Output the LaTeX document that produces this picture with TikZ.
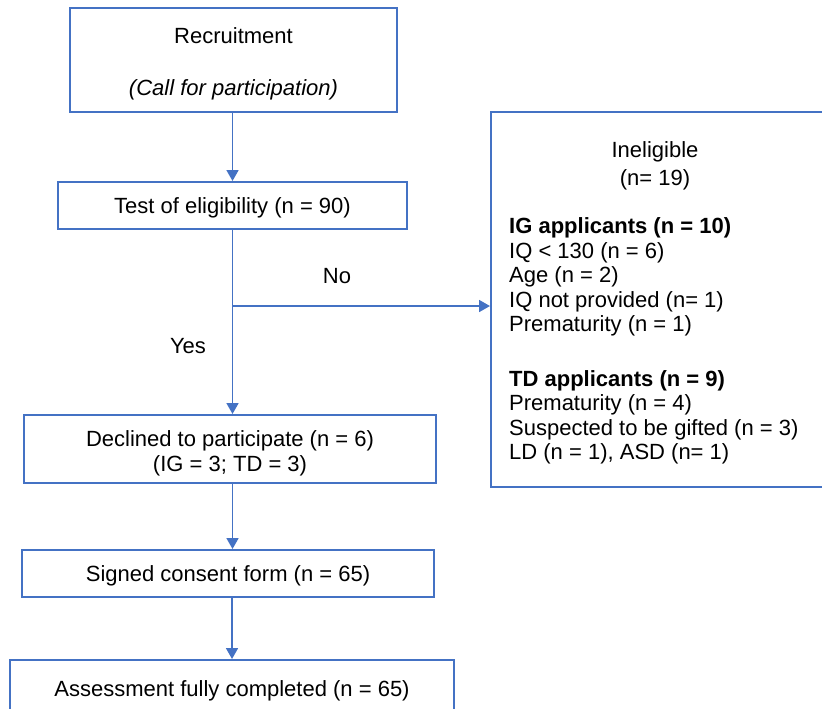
\documentclass[tikz,border=0pt]{standalone}
\usepackage{fontspec}
\setmainfont{Liberation Sans}
\usepackage{xcolor}
\usepackage{tikz}
\usetikzlibrary{arrows.meta,positioning,calc}
\definecolor{flowblue}{HTML}{4472C4}
\tikzset{
  flowbox/.style={draw=flowblue,line width=2pt,inner sep=0pt,align=center,
    font=\fontsize{22}{24.6}\selectfont,
    execute at begin node={\rule{0pt}{20pt}}},
  flowarrow/.style={draw=flowblue,line width=1.8pt,-{Triangle[length=11pt,width=12pt]}},
  flowtext/.style={inner sep=0pt,font=\fontsize{22}{24.6}\selectfont}
}
\begin{document}
\begin{tikzpicture}[x=1pt,y=-1pt]
  \useasboundingbox (0,0) rectangle (822,709);
  % Boxes on the left
  \node[flowbox,minimum width=327pt,minimum height=104pt] (recruit) at (233.5,60)
    {\rule{0pt}{24pt}Recruitment\\[27pt]\textit{(Call for participation)}};
  \node[flowbox,minimum width=349pt,minimum height=47pt] (test) at (232.5,205.5)
    {Test of eligibility (n = 90)};
  \node[flowbox,minimum width=412pt,minimum height=68pt] (decl) at (230,449)
    {\rule{0pt}{25pt}Declined to participate (n = 6)\\(IG = 3; TD = 3)};
  \node[flowbox,minimum width=412pt,minimum height=47pt] (signed) at (228,573.5)
    {Signed consent form (n = 65)};
  \node[flowbox,minimum width=444pt,minimum height=58pt] (assess) at (232,689)
    {Assessment fully completed (n = 65)};
  % Ineligible box
  \node[flowbox,minimum width=335pt,minimum height=375pt] (inel) at (658.5,299.5) {};
  \node[flowtext,align=center] (inelhead) at (655,166) {Ineligible\\[3.5pt](n= 19)};
  \node[flowtext,align=left,anchor=west] (inellist) at (509,341)
    {\textbf{IG applicants (n = 10)}\\
     IQ < 130 (n = 6)\\
     Age (n = 2)\\
     IQ not provided (n= 1)\\
     Prematurity (n = 1)\\[29.5pt]
     \textbf{TD applicants (n = 9)}\\
     Prematurity (n = 4)\\
     Suspected to be gifted (n = 3)\\
     LD (n = 1), ASD (n= 1)};
  % Connectors
  \coordinate (brk) at (test.south |- 0,306);
  \draw[flowarrow] (recruit.south -| test.south) -- (test.north);
  \draw[flowarrow] (test.south) -- (test.south |- decl.north);
  \draw[flowarrow] (brk) -- (brk -| inel.west);
  \draw[flowarrow] (test.south |- decl.south) -- (test.south |- signed.north);
  \draw[flowarrow] (signed.south -| assess.north) -- (assess.north);
  % Labels
  \node[flowtext] (nolab) at (337,276) {No};
  \node[flowtext] (yeslab) at (188,346) {Yes};
\end{tikzpicture}
\end{document}
